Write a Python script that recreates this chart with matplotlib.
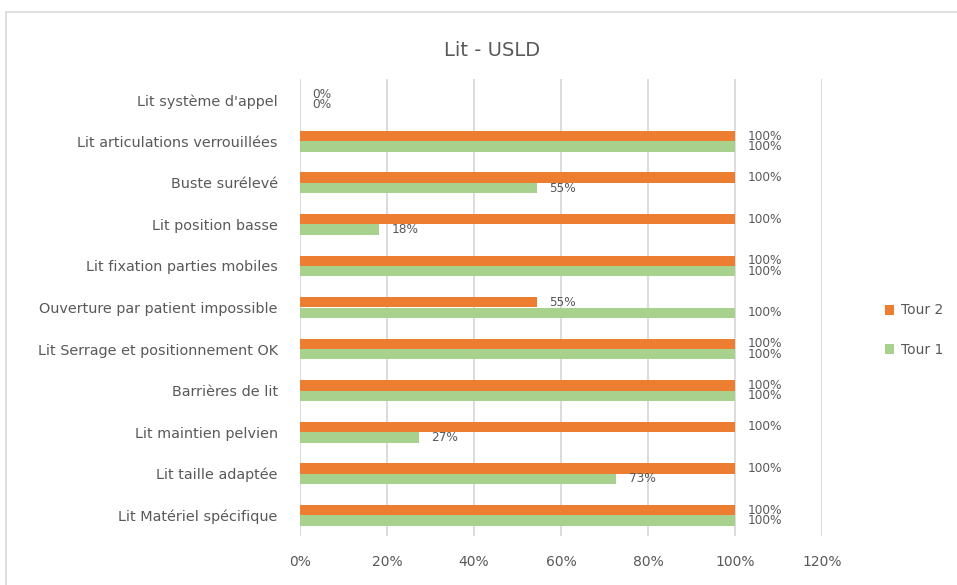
import matplotlib.pyplot as plt
from matplotlib.patches import Rectangle
import numpy as np

# categories listed top to bottom as in the chart
categories = [
    "Lit système d'appel",
    "Lit articulations verrouillées",
    "Buste surélevé",
    "Lit position basse",
    "Lit fixation parties mobiles",
    "Ouverture par patient impossible",
    "Lit Serrage et positionnement OK",
    "Barrières de lit",
    "Lit maintien pelvien",
    "Lit taille adaptée",
    "Lit Matériel spécifique",
]
tour2 = [0.0, 1.0, 1.0, 1.0, 1.0, 0.545, 1.0, 1.0, 1.0, 1.0, 1.0]
tour1 = [0.0, 1.0, 0.545, 0.182, 1.0, 1.0, 1.0, 1.0, 0.273, 0.727, 1.0]
xticks = [0, 0.2, 0.4, 0.6, 0.8, 1.0, 1.2]

orange = "#ED7D31"
green = "#A9D18E"
txt = "#595959"

fig = plt.figure(figsize=(9.57, 5.85), dpi=100)
# chart frame like excel (runs off the right and bottom edges)
fig.patches.append(Rectangle((6/957, -0.2), 1.2, 1.2 - 12/585, transform=fig.transFigure,
                             fill=False, edgecolor="#D9D9D9", linewidth=1.2))

ax = fig.add_axes([300/957, 1 - 536/585, 522/957, 457/585])

n = len(categories)
y = np.arange(n)[::-1]
h = 0.25
b2 = ax.barh(y + h/2, tour2, height=h, color=orange, label="Tour 2", zorder=3)
b1 = ax.barh(y - h/2, tour1, height=h, color=green, label="Tour 1", zorder=3)

for bars, vals in [(b2, tour2), (b1, tour1)]:
    for rect, v in zip(bars, vals):
        ax.annotate(f"{v*100:.0f}%", (v, rect.get_y() + rect.get_height()/2),
                    xytext=(9, 0), textcoords="offset points",
                    ha="left", va="center", fontsize=8.7, color=txt)

ax.set_xlim(0, 1.2)
ax.set_ylim(-0.5, n - 0.5)
ax.set_xticks(xticks)
ax.set_xticklabels([f"{t*100:.0f}%" for t in xticks])
ax.set_yticks(y)
ax.set_yticklabels(categories)
ax.tick_params(axis="both", length=0, colors=txt, labelsize=10)
ax.tick_params(axis="y", labelsize=10.4, pad=16)
ax.tick_params(axis="x", pad=14)
ax.grid(axis="x", color="#D9D9D9", linewidth=1.3, zorder=0)
for s in ax.spines.values():
    s.set_visible(False)

fig.text(492/957, 1 - 50/585, "Lit - USLD", ha="center", va="center",
         fontsize=14, color=txt)

fig.legend(handles=[b2, b1], loc="center left", bbox_to_anchor=(872/957, 1 - 330/585),
           frameon=False, fontsize=10, labelcolor=txt, handlelength=0.7,
           handleheight=0.7, labelspacing=1.8, handletextpad=0.5)

fig.savefig("out.png", dpi=100)
